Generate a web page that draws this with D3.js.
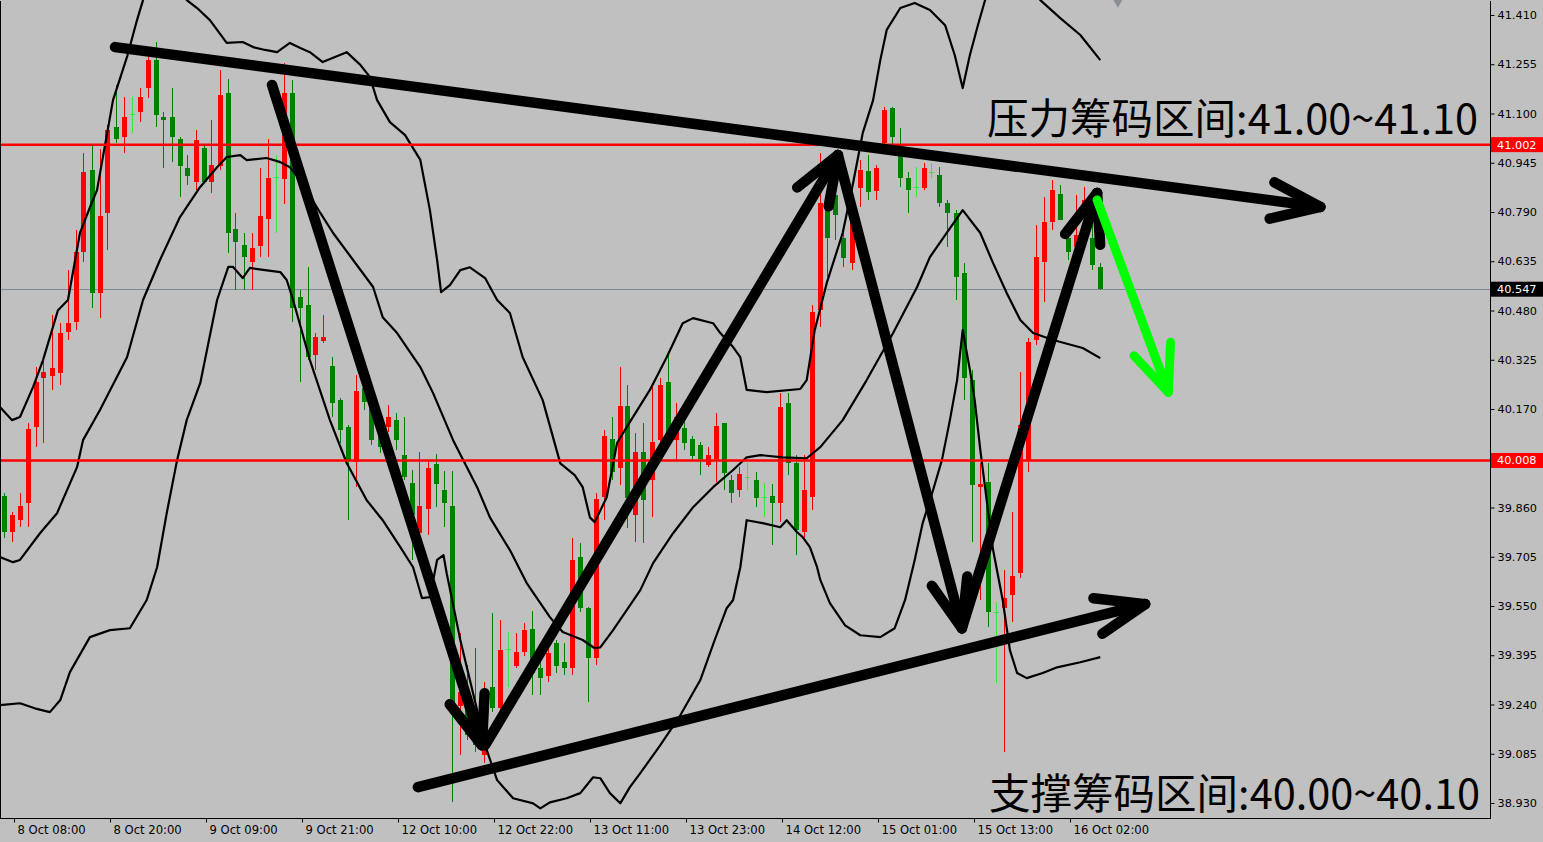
<!DOCTYPE html>
<html><head><meta charset="utf-8">
<script src="https://cdn.jsdelivr.net/npm/d3@7"></script>
<style>html,body{margin:0;padding:0;background:#c0c0c0;overflow:hidden}</style>
</head><body>
<svg id="c" width="1543" height="842"></svg>
<script>
// ---------- DATA ----------
const timeLabels=["8 Oct 08:00","8 Oct 20:00","9 Oct 09:00","9 Oct 21:00","12 Oct 10:00","12 Oct 22:00","13 Oct 11:00","13 Oct 23:00","14 Oct 12:00","15 Oct 01:00","15 Oct 13:00","16 Oct 02:00"];
const timeLabelBars=[1,13,25,37,49,61,73,85,97,109,121,133];
const priceTicks=[41.410,41.255,41.100,40.945,40.790,40.635,40.480,40.325,40.170,40.015,39.860,39.705,39.550,39.395,39.240,39.085,38.930];

const opens=[39.896,39.782,39.820,39.874,40.113,40.267,40.273,40.283,40.412,40.443,
40.664,40.922,40.535,40.786,41.057,41.026,41.098,41.104,41.180,41.268,
41.089,41.089,41.019,40.928,40.884,40.991,40.884,40.934,41.164,40.736,
40.686,40.632,40.683,40.768,40.900,40.894,41.164,40.522,40.497,40.339,
40.384,40.305,40.198,40.113,40.003,40.236,40.176,40.081,40.113,40.135,
40.025,39.937,39.779,39.855,39.996,39.914,39.864,39.235,39.253,39.175,
39.080,39.294,39.228,39.414,39.362,39.405,39.477,39.354,39.329,39.433,
39.373,39.354,39.704,39.543,39.386,39.892,40.075,39.984,40.179,39.836,
40.034,39.946,40.072,40.255,40.072,40.110,40.075,40.056,39.993,40.012,
40.125,39.946,39.915,39.955,39.946,39.892,39.896,39.874,40.188,39.999,
39.782,39.892,40.481,40.805,40.843,40.708,40.629,40.865,40.919,40.856,
41.007,41.117,41.001,40.897,40.868,40.865,40.916,40.906,40.818,40.786,
40.598,40.261,39.924,39.940,39.530,39.543,39.584,39.653,40.009,40.387,
40.632,40.758,40.846,40.708,40.679,40.780,40.708,40.616];
const highs=[39.905,39.845,39.905,40.125,40.302,40.330,40.465,40.440,40.607,40.733,
40.975,41.001,40.988,41.063,41.189,41.152,41.152,41.180,41.290,41.325,
41.104,41.180,41.026,40.969,41.048,41.001,41.080,41.237,41.208,40.786,
40.724,40.724,40.928,41.019,40.969,41.259,41.205,40.544,40.616,40.409,
40.465,40.333,40.204,40.119,40.276,40.261,40.198,40.104,40.182,40.157,
40.144,39.977,40.034,40.009,40.028,39.974,39.974,39.464,39.364,39.417,
39.310,39.527,39.505,39.467,39.464,39.496,39.534,39.389,39.420,39.442,
39.433,39.763,39.748,39.546,39.905,40.104,40.144,40.302,40.245,40.094,
40.125,40.239,40.267,40.346,40.188,40.144,40.084,40.066,40.050,40.157,
40.125,39.962,39.987,39.999,39.971,39.937,39.933,40.220,40.220,40.025,
40.025,40.497,40.975,40.853,40.985,40.742,40.828,40.953,40.969,40.938,
41.120,41.120,41.054,40.916,40.931,40.944,40.944,40.931,40.828,40.796,
40.629,40.293,39.999,39.999,39.562,39.663,39.845,40.286,40.393,40.749,
40.837,40.891,40.875,40.755,40.843,40.868,40.796,40.629];
const lows=[39.763,39.751,39.798,39.798,40.050,40.063,40.229,40.245,40.387,40.418,
40.632,40.487,40.456,40.670,41.007,40.975,41.038,41.073,41.148,41.057,
40.928,40.947,40.837,40.875,40.859,40.881,40.849,40.922,40.661,40.544,
40.544,40.544,40.648,40.648,40.724,40.815,40.443,40.254,40.324,40.292,
40.377,40.144,40.063,39.820,39.924,40.166,40.056,40.031,40.097,40.040,
39.946,39.694,39.757,39.773,39.861,39.798,38.932,39.080,39.127,39.090,
39.055,39.216,39.216,39.294,39.354,39.392,39.269,39.269,39.310,39.338,
39.332,39.332,39.530,39.247,39.364,39.820,39.946,39.930,39.795,39.751,
39.748,39.829,40.040,40.072,40.009,40.040,40.009,39.962,39.987,39.940,
39.915,39.874,39.892,39.915,39.861,39.829,39.741,39.814,39.962,39.710,
39.757,39.852,40.428,40.585,40.702,40.616,40.607,40.805,40.828,40.828,
40.985,40.985,40.868,40.786,40.837,40.859,40.897,40.805,40.679,40.513,
40.198,39.751,39.569,39.483,39.307,39.090,39.499,39.637,39.971,40.371,
40.506,40.733,40.765,40.639,40.670,40.749,40.607,40.544];
const closes=[39.782,39.836,39.864,40.107,40.255,40.286,40.299,40.409,40.440,40.664,
40.916,40.535,40.777,41.048,41.019,41.089,41.098,41.152,41.268,41.095,
41.079,41.026,40.934,40.903,41.016,40.884,40.938,41.158,40.724,40.695,
40.648,40.676,40.777,40.897,40.900,41.164,40.487,40.487,40.333,40.396,
40.396,40.188,40.103,40.009,40.226,40.192,40.072,40.050,40.144,40.072,
39.955,39.836,39.864,39.984,39.933,39.874,39.212,39.279,39.143,39.112,
39.216,39.228,39.411,39.414,39.405,39.474,39.338,39.323,39.401,39.360,
39.354,39.694,39.543,39.386,39.886,40.084,39.971,40.179,39.889,40.034,
39.883,40.066,40.245,40.088,40.144,40.063,40.022,40.012,40.025,40.116,
39.968,39.905,39.965,39.955,39.889,39.892,39.874,40.176,39.999,39.789,
39.914,40.475,40.818,40.708,40.780,40.645,40.755,40.922,40.853,40.928,
41.111,41.026,40.897,40.859,40.868,40.928,40.916,40.818,40.786,40.585,
40.267,39.930,39.933,39.530,39.530,39.574,39.644,40.119,40.380,40.648,
40.758,40.859,40.765,40.664,40.717,40.828,40.623,40.547];

// Bollinger band lines: [bar index, price]
const bandUpper=[[-0.44,40.176],[1.06,40.135],[2.06,40.145],[3.69,40.239],[4.94,40.324],[6.81,40.481],[8.06,40.513],[9.56,40.724],[10.81,40.805],[11.69,40.859],[13.69,41.142],[15.44,41.278],[16.69,41.394],[17.44,41.457],[18.3,41.504],[19.6,41.545],[20.8,41.536],[22.1,41.495],[22.9,41.457],[24.2,41.432],[25.8,41.394],[27.9,41.322],[29.9,41.325],[31.2,41.309],[32.7,41.300],[34.2,41.293],[35.8,41.322],[37.1,41.306],[38.3,41.293],[39.9,41.262],[42.9,41.293],[44.6,41.253],[45.8,41.215],[46.7,41.142],[48.3,41.073],[50.2,41.032],[52.1,40.954],[53.3,40.796],[54.2,40.639],[54.7,40.538],[55.8,40.560],[57.1,40.607],[58.3,40.616],[60.2,40.582],[61.7,40.513],[63.3,40.472],[64.9,40.333],[67.4,40.198],[69.6,39.999],[71.4,39.962],[72.4,39.924],[73.3,39.829],[73.9,39.814],[75.4,39.892],[76.7,40.063],[77.9,40.113],[80.8,40.230],[82.9,40.333],[84.9,40.440],[86.2,40.456],[88.7,40.440],[89.6,40.409],[91.2,40.365],[92.1,40.333],[92.9,40.230],[95.4,40.223],[99.6,40.233],[100.4,40.261],[101.4,40.418],[102.9,40.566],[104.9,40.724],[106.2,40.881],[107.4,41.038],[108.7,41.142],[109.6,41.268],[110.4,41.363],[112.1,41.432],[113.9,41.448],[115.8,41.426],[117.7,41.378],[118.9,41.284],[119.9,41.180],[120.8,41.284],[121.8,41.378],[122.7,41.457],[124.6,41.504],[126.4,41.520],[128.3,41.495],[129.6,41.457],[132.1,41.400],[134.6,41.347],[137.1,41.268]];
const bandMiddle=[[-0.44,39.704],[1.19,39.688],[2.06,39.695],[4.56,39.779],[6.69,39.842],[9.19,39.987],[9.94,40.072],[12.06,40.167],[15.44,40.333],[17.44,40.513],[19.56,40.639],[22.06,40.774],[24.56,40.868],[26.7,40.931],[27.9,40.963],[29.6,40.969],[30.4,40.953],[32.9,40.960],[34.6,40.947],[35.8,40.931],[37.1,40.891],[39.6,40.787],[41.2,40.724],[43.7,40.639],[46.2,40.554],[47.4,40.459],[49.2,40.409],[52.1,40.302],[53.7,40.220],[56.2,40.072],[59.2,39.924],[60.8,39.829],[63.3,39.726],[65.4,39.622],[68.3,39.515],[69.9,39.468],[72.4,39.443],[73.9,39.417],[74.6,39.420],[76.2,39.474],[77.9,39.537],[79.6,39.600],[81.2,39.685],[83.7,39.779],[86.2,39.861],[88.7,39.924],[91.2,39.978],[92.9,40.018],[94.6,40.025],[97.4,40.018],[100.4,40.015],[102.1,40.050],[104.9,40.135],[107.9,40.261],[111.2,40.409],[114.2,40.554],[115.8,40.648],[117.9,40.724],[119.9,40.796],[122.1,40.724],[123.7,40.629],[125.4,40.535],[127.1,40.450],[128.7,40.409],[131.2,40.387],[134.9,40.362],[137.1,40.330]];
const bandLower=[[-0.44,39.238],[2.06,39.244],[3.9,39.228],[5.8,39.216],[7.1,39.254],[8.3,39.342],[10.8,39.452],[13.3,39.474],[15.8,39.480],[17.9,39.569],[19.2,39.672],[20.4,39.842],[21.7,40.009],[22.9,40.135],[24.6,40.252],[26.7,40.513],[28.1,40.617],[28.7,40.617],[29.9,40.582],[30.8,40.614],[32.7,40.607],[34.6,40.601],[35.4,40.576],[36.2,40.513],[38.3,40.324],[40.8,40.135],[42.9,40.000],[45.4,39.883],[47.4,39.820],[49.6,39.735],[51.2,39.672],[52.3,39.575],[53.3,39.578],[54.2,39.695],[55.0,39.710],[55.4,39.653],[57.1,39.443],[58.9,39.254],[60.4,39.097],[61.7,39.002],[63.7,38.945],[66.2,38.929],[67.1,38.913],[68.3,38.932],[70.4,38.945],[72.1,38.961],[73.7,39.011],[74.6,39.008],[75.8,38.961],[77.1,38.929],[78.3,38.980],[79.6,39.024],[82.1,39.112],[84.6,39.206],[87.1,39.317],[88.9,39.443],[90.4,39.543],[91.2,39.569],[92.1,39.672],[92.9,39.820],[94.9,39.811],[97.1,39.798],[97.9,39.820],[99.2,39.782],[99.9,39.767],[100.8,39.735],[101.7,39.672],[102.1,39.632],[103.3,39.559],[105.2,39.489],[107.1,39.458],[109.6,39.452],[111.4,39.480],[112.7,39.569],[113.9,39.695],[114.9,39.811],[116.2,39.915],[117.3,40.009],[118.3,40.135],[119.2,40.261],[119.9,40.418],[120.8,40.293],[121.4,40.198],[122.1,40.041],[122.9,39.883],[123.7,39.726],[124.9,39.569],[125.8,39.411],[126.7,39.339],[127.9,39.323],[129.9,39.339],[131.7,39.357],[134.6,39.373],[137.1,39.389]];

const levelLines=[41.002,40.008];
const lastPrice=40.547;
// hand-drawn arrows: [bar, price] -> [bar, price]
const arrowsBlack=[
  [[13.94,41.309],[164.6,40.806]],
  [[33.56,41.190],[59.8,39.112]],
  [[60.2,39.112],[104.3,40.969]],
  [[104.3,40.969],[119.8,39.480]],
  [[119.8,39.480],[136.7,40.850]],
  [[51.8,38.980],[142.7,39.556]]
];
const arrowGreen=[[136.7,40.828],[145.6,40.223]];
const markerTop=[139.3,41.457];
const noteTop="压力筹码区间:41.00~41.10";
const noteBottom="支撑筹码区间:40.00~40.10";

// ---------- DRAW ----------
const W=1543,H=842,plotR=1490,plotB=818;
const svg=d3.select("#c");
const x=d3.scaleLinear().domain([0,137]).range([3.5,1099.5]);
const y=d3.scaleLinear().domain([38.930,41.410]).range([803,15]);
const BG="#c0c0c0",UP="#ff0000",DN="#008000",DOJI="#3ee03e";

svg.append("rect").attr("width",W).attr("height",H).attr("fill",BG);
svg.append("defs").append("clipPath").attr("id","clip").append("rect")
  .attr("x",0).attr("y",0).attr("width",plotR).attr("height",plotB);
const g=svg.append("g").attr("clip-path","url(#clip)");

// last price grey line
g.append("line").attr("x1",0).attr("x2",plotR)
  .attr("y1",Math.round(y(lastPrice))+0.5).attr("y2",Math.round(y(lastPrice))+0.5)
  .attr("stroke","#7d8a99").attr("stroke-width",1);

// candles
const idx=d3.range(opens.length);
const cg=g.append("g").attr("shape-rendering","crispEdges");
idx.forEach(i=>{
  const o=opens[i],h=highs[i],l=lows[i],c=closes[i];
  const col=c>o?UP:(c<o?DN:DOJI);
  const cx=Math.round(x(i));
  cg.append("line").attr("x1",cx+0.5).attr("x2",cx+0.5)
    .attr("y1",y(h)).attr("y2",y(l)).attr("stroke",col).attr("stroke-width",1);
  const top=Math.min(y(o),y(c)),bot=Math.max(y(o),y(c));
  cg.append("rect").attr("x",cx-2).attr("width",5)
    .attr("y",top).attr("height",Math.max(1,bot-top)).attr("fill",col);
});

// bands
const line=d3.line().x(d=>x(d[0])).y(d=>y(d[1]));
[bandUpper,bandMiddle,bandLower].forEach(b=>{
  g.append("path").attr("d",line(b)).attr("fill","none")
   .attr("stroke","#000").attr("stroke-width",2.2).attr("stroke-linejoin","round");
});

// level lines
levelLines.forEach(p=>{
  g.append("line").attr("x1",0).attr("x2",plotR).attr("y1",y(p)).attr("y2",y(p))
   .attr("stroke","#ff0000").attr("stroke-width",2.5);
});

// small grey object marker at the top edge
g.append("path").attr("d",d3.symbol(d3.symbolDiamond,70)())
  .attr("transform",`translate(${x(markerTop[0])},${y(markerTop[1])})`).attr("fill","#8a8f96");

// arrows
function arrow(a,color,w,headLen,headAng){
  const x1=x(a[0][0]),y1=y(a[0][1]),x2=x(a[1][0]),y2=y(a[1][1]);
  const ang=Math.atan2(y2-y1,x2-x1);
  const ag=g.append("g").attr("stroke",color).attr("stroke-width",w)
    .attr("stroke-linecap","round").attr("fill","none");
  ag.append("line").attr("x1",x1).attr("y1",y1).attr("x2",x2).attr("y2",y2);
  [-1,1].forEach(s=>{
    const a2=ang+Math.PI+s*headAng;
    ag.append("line").attr("x1",x2).attr("y1",y2)
      .attr("x2",x2+headLen*Math.cos(a2)).attr("y2",y2+headLen*Math.sin(a2));
  });
}
arrowsBlack.forEach(a=>arrow(a,"#000",10.5,52,0.36));
arrow(arrowGreen,"#00ff00",9,50,0.40);

// notes
svg.append("text").attr("x",1478).attr("y",134).attr("text-anchor","end")
  .attr("font-family","'Noto Sans CJK SC','Noto Sans',sans-serif").attr("font-size",41.5)
  .attr("fill","#000").text(noteTop);
svg.append("text").attr("x",1480).attr("y",809).attr("text-anchor","end")
  .attr("font-family","'Noto Sans CJK SC','Noto Sans',sans-serif").attr("font-size",41.5)
  .attr("fill","#000").text(noteBottom);

// frame
svg.append("path").attr("d",`M0.5,0.5V${plotB+0.5}H${plotR+0.5}V0.5`)
  .attr("fill","none").attr("stroke","#000").attr("stroke-width",1).attr("shape-rendering","crispEdges");

// y axis
const yAx=svg.append("g").attr("transform",`translate(${plotR+0.5},0)`)
  .call(d3.axisRight(y).tickValues(priceTicks).tickSize(4).tickPadding(3).tickFormat(d3.format(".3f")));
yAx.select(".domain").remove();
yAx.selectAll("text").attr("font-family","Tahoma,'DejaVu Sans',sans-serif").attr("font-size",11.3).attr("fill","#000");
yAx.selectAll("line").attr("stroke","#000");

// price markers
function marker(p,fill){
  const gy=y(p);
  svg.append("rect").attr("x",plotR+1).attr("y",gy-7.5).attr("width",W-plotR-1).attr("height",15).attr("fill",fill);
  svg.append("text").attr("x",plotR+7).attr("y",gy).attr("dy","0.35em")
    .attr("font-family","Tahoma,'DejaVu Sans',sans-serif").attr("font-size",11.3).attr("fill","#fff")
    .text(d3.format(".3f")(p));
}
levelLines.forEach(p=>marker(p,"#ff0000"));
marker(lastPrice,"#000");

// x axis
const xAx=svg.append("g").attr("transform",`translate(2.5,${plotB+0.5})`)
  .call(d3.axisBottom(x).tickValues(timeLabelBars).tickSize(4).tickPadding(3)
    .tickFormat((d,i)=>timeLabels[i]));
xAx.select(".domain").remove();
xAx.selectAll("text").attr("text-anchor","start").attr("x",3)
  .attr("font-family","Tahoma,'DejaVu Sans',sans-serif").attr("font-size",11.6).attr("fill","#000");
xAx.selectAll("line").attr("stroke","#000");
</script>
</body></html>
